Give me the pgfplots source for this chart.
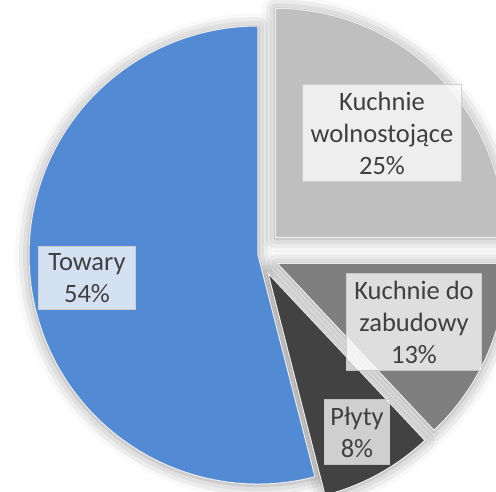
\documentclass[border=0pt]{standalone}
\usepackage{pgfplots}
\pgfplotsset{compat=1.18}
\usepackage{pgfplotstable}
\usepackage{fontspec}
\setmainfont{Carlito}
\usetikzlibrary{shadows.blur}
\definecolor{cBlue}{RGB}{82,139,211}
\definecolor{cKW}{RGB}{191,191,191}
\definecolor{cKZ}{RGB}{127,127,127}
\definecolor{cPL}{RGB}{66,66,66}
\definecolor{cTxt}{RGB}{64,64,64}
\definecolor{cBox}{RGB}{205,205,205}
\tikzset{lbl/.style={font=\fontsize{26.5}{32}\selectfont, text=cTxt, align=center,
    fill=white, fill opacity=0.75, text opacity=1, draw=cBox, draw opacity=0.9,
    line width=1.2pt, inner xsep=8pt, inner ysep=7pt}}
\pgfplotstableread[col sep=comma]{
name,value,explode,color
Kuchnie wolnostojace,25,25,cKW
Kuchnie do zabudowy,13,21,cKZ
Plyty,8,21,cPL
Towary,54,0,cBlue
}\piedata
\begin{document}
\begin{tikzpicture}
\useasboundingbox (0,0) rectangle (496pt,492pt);
\begin{axis}[
  at={(0,0)}, anchor=south west,
  disabledatascaling, x=1pt, y=1pt, scale only axis,
  xmin=-258, xmax=238, ymin=-237, ymax=255,
  hide axis, clip=true
]
\pgfplotstablegetrowsof{\piedata}
\pgfmathtruncatemacro\N{\pgfplotsretval-1}
% pass 1: shadows
\def\cum{0}
\pgfplotsforeachungrouped \i in {0,...,\N}{%
  \pgfplotstablegetelem{\i}{value}\of\piedata \let\v\pgfplotsretval
  \pgfplotstablegetelem{\i}{explode}\of\piedata \let\ex\pgfplotsretval
  \pgfmathsetmacro\a{90-\cum*3.6}%
  \pgfmathsetmacro\b{90-(\cum+\v)*3.6}%
  \pgfmathsetmacro\m{(\a+\b)/2}%
  \pgfmathsetmacro\dx{\ex*cos(\m)}%
  \pgfmathsetmacro\dy{\ex*sin(\m)}%
  \edef\temp{\noexpand\fill[white, blur shadow={shadow xshift=0pt, shadow yshift=-1pt, shadow blur radius=14pt, shadow opacity=40}] (axis cs:\dx,\dy) -- ++(\a:229pt) arc[start angle=\a, end angle=\b, radius=229pt] -- cycle;}%
  \temp
  \pgfmathsetmacro\cum{\cum+\v}%
}
% pass 2: slices
\def\cum{0}
\pgfplotsforeachungrouped \i in {0,...,\N}{%
  \pgfplotstablegetelem{\i}{value}\of\piedata \let\v\pgfplotsretval
  \pgfplotstablegetelem{\i}{explode}\of\piedata \let\ex\pgfplotsretval
  \pgfplotstablegetelem{\i}{color}\of\piedata \let\col\pgfplotsretval
  \pgfmathsetmacro\a{90-\cum*3.6}%
  \pgfmathsetmacro\b{90-(\cum+\v)*3.6}%
  \pgfmathsetmacro\m{(\a+\b)/2}%
  \pgfmathsetmacro\dx{\ex*cos(\m)}%
  \pgfmathsetmacro\dy{\ex*sin(\m)}%
  \edef\temp{\noexpand\fill[\col, draw=white!85!gray, line width=1pt] (axis cs:\dx,\dy) -- ++(\a:229pt) arc[start angle=\a, end angle=\b, radius=229pt] -- cycle;}%
  \temp
  \pgfmathsetmacro\cum{\cum+\v}%
}
\node[lbl] at (axis cs:124,122) {Kuchnie\\wolnostojące\\25\%};
\node[lbl] at (axis cs:156,-67) {Kuchnie do\\zabudowy\\13\%};
\node[lbl, inner xsep=6pt] at (axis cs:99,-177) {Płyty\\8\%};
\node[lbl, inner xsep=10pt] at (axis cs:-171,-23) {Towary\\54\%};
\end{axis}
\end{tikzpicture}
\end{document}
